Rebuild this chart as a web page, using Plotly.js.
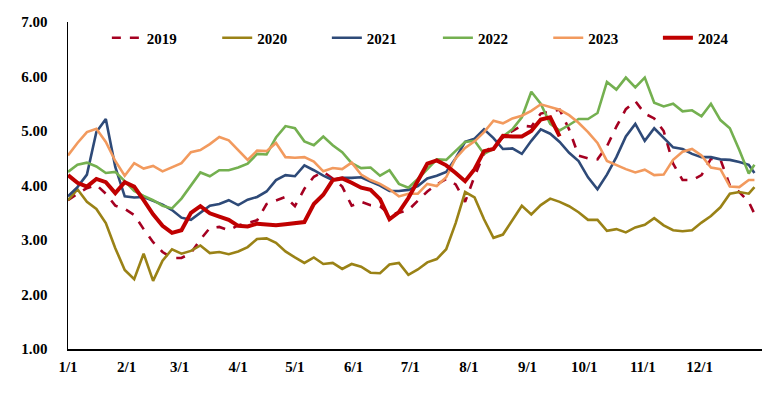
<!DOCTYPE html>
<html>
<head>
<meta charset="utf-8">
<script src="https://cdn.plot.ly/plotly-3.0.1.min.js"></script>
<style>html,body{margin:0;padding:0;background:#fff;}#chart{width:777px;height:394px;}</style>
</head>
<body>
<div id="chart"></div>
<script>
const dates = ["2023-01-01","2023-01-06","2023-01-11","2023-01-16","2023-01-21","2023-01-26","2023-01-31","2023-02-05","2023-02-10","2023-02-15","2023-02-20","2023-02-25","2023-03-02","2023-03-07","2023-03-12","2023-03-17","2023-03-22","2023-03-27","2023-04-01","2023-04-06","2023-04-11","2023-04-16","2023-04-21","2023-04-26","2023-05-01","2023-05-06","2023-05-11","2023-05-16","2023-05-21","2023-05-26","2023-05-31","2023-06-05","2023-06-10","2023-06-15","2023-06-20","2023-06-25","2023-06-30","2023-07-05","2023-07-10","2023-07-15","2023-07-20","2023-07-25","2023-07-30","2023-08-04","2023-08-09","2023-08-14","2023-08-19","2023-08-24","2023-08-29","2023-09-03","2023-09-08","2023-09-13","2023-09-18","2023-09-23","2023-09-28","2023-10-03","2023-10-08","2023-10-13","2023-10-18","2023-10-23","2023-10-28","2023-11-02","2023-11-07","2023-11-12","2023-11-17","2023-11-22","2023-11-27","2023-12-02","2023-12-07","2023-12-12","2023-12-17","2023-12-22","2023-12-27","2023-12-30"];

const tickDates = ["2023-01-01","2023-02-01","2023-03-01","2023-04-01","2023-05-01","2023-06-01","2023-07-01","2023-08-01","2023-09-01","2023-10-01","2023-11-01","2023-12-01"];
const tickLabels = ["1/1","2/1","3/1","4/1","5/1","6/1","7/1","8/1","9/1","10/1","11/1","12/1"];

const y2019 = [3.73,3.85,3.95,4.01,3.85,3.63,3.57,3.46,3.20,2.96,2.78,2.67,2.67,2.76,3.01,3.22,3.24,3.18,3.27,3.31,3.36,3.66,3.73,3.79,3.62,3.94,4.16,4.25,4.13,3.98,3.63,3.70,3.64,3.62,3.47,3.50,3.55,3.73,3.89,4.02,4.12,4.02,3.70,4.17,4.58,4.76,4.88,5.00,5.10,5.08,5.32,5.36,5.39,5.03,4.55,4.50,4.48,4.72,5.08,5.40,5.55,5.32,5.23,5.00,4.40,4.10,4.10,4.19,4.49,4.48,4.00,3.88,3.70,3.48];

const y2020 = [3.73,3.93,3.70,3.57,3.31,2.85,2.45,2.28,2.75,2.25,2.62,2.83,2.75,2.80,2.90,2.76,2.78,2.74,2.79,2.87,3.02,3.03,2.95,2.79,2.68,2.58,2.68,2.56,2.58,2.47,2.56,2.51,2.40,2.39,2.55,2.58,2.36,2.46,2.59,2.65,2.83,3.31,3.88,3.78,3.38,3.04,3.10,3.37,3.63,3.47,3.64,3.76,3.70,3.62,3.51,3.37,3.37,3.17,3.20,3.14,3.23,3.28,3.40,3.27,3.18,3.16,3.18,3.32,3.44,3.60,3.85,3.88,3.85,3.97];

const y2021 = [3.80,3.97,4.20,4.98,5.22,4.34,3.80,3.78,3.79,3.72,3.65,3.55,3.41,3.37,3.50,3.63,3.66,3.73,3.64,3.74,3.79,3.89,4.10,4.19,4.17,4.37,4.28,4.18,4.10,4.14,4.14,4.15,4.07,4.00,3.90,3.90,3.92,3.99,4.13,4.18,4.25,4.50,4.80,4.86,5.03,4.87,4.67,4.68,4.58,4.82,5.03,4.95,4.80,4.60,4.45,4.15,3.93,4.20,4.52,4.90,5.13,4.82,5.05,4.88,4.70,4.67,4.58,4.52,4.52,4.48,4.47,4.43,4.38,4.23];

const y2022 = [4.25,4.38,4.42,4.35,4.23,4.25,4.08,3.90,3.81,3.73,3.63,3.58,3.76,4.00,4.24,4.17,4.28,4.28,4.33,4.40,4.58,4.57,4.88,5.09,5.05,4.81,4.74,4.90,4.74,4.61,4.41,4.32,4.33,4.18,4.28,4.03,3.96,4.12,4.31,4.48,4.47,4.64,4.80,4.82,4.58,4.67,4.90,5.03,5.25,5.72,5.50,5.13,5.01,5.11,5.22,5.22,5.33,5.90,5.76,5.98,5.80,5.98,5.52,5.45,5.50,5.36,5.38,5.27,5.50,5.20,5.05,4.65,4.22,4.38];

const y2023 = [4.55,4.78,4.98,5.04,4.80,4.45,4.18,4.41,4.31,4.36,4.26,4.34,4.41,4.61,4.65,4.76,4.89,4.83,4.64,4.47,4.64,4.63,4.78,4.52,4.51,4.52,4.44,4.26,4.32,4.30,4.42,4.20,4.10,4.03,3.93,3.80,3.85,3.85,4.03,3.99,4.15,4.50,4.69,4.81,4.98,5.19,5.14,5.23,5.28,5.37,5.49,5.44,5.39,5.29,5.15,4.98,4.78,4.45,4.37,4.30,4.24,4.29,4.19,4.20,4.47,4.62,4.67,4.55,4.33,4.30,3.98,3.97,4.10,4.10];

const y2024 = [4.19,4.05,3.98,4.12,4.06,3.86,4.06,3.98,3.73,3.47,3.26,3.13,3.18,3.50,3.62,3.49,3.43,3.37,3.26,3.25,3.30,3.29,3.27,3.29,3.31,3.33,3.66,3.83,4.10,4.13,4.05,3.96,3.92,3.75,3.38,3.51,3.77,4.08,4.40,4.46,4.37,4.23,4.08,4.30,4.63,4.67,4.91,4.90,4.90,5.00,5.21,5.25,4.90];

const seriesNames = ["2019","2020","2021","2022","2023","2024"];
const seriesData = [y2019,y2020,y2021,y2022,y2023,y2024];
const colors = ["#A50021","#9A8216","#2E4A78","#74B050","#F29A5E","#C00000"];
const widths = [2.6,2.6,2.6,2.6,2.6,4];
const dashes = ["dash","solid","solid","solid","solid","solid"];
const legendX = [0.056,0.215,0.373,0.533,0.692,0.850];

const fam = "Liberation Serif, Times New Roman, serif";
const legendIds = ["legend","legend2","legend3","legend4","legend5","legend6"];

const traces = seriesNames.map((n,i)=>({
  type:"scatter", mode:"lines", name:n, legend:legendIds[i],
  x: dates.slice(0, seriesData[i].length), y: seriesData[i],
  line:{color:colors[i], width:widths[i], dash:dashes[i]}
}));

const layout = {
  width:777, height:394,
  margin:{l:68, r:15, t:22, b:45},
  paper_bgcolor:"#fff", plot_bgcolor:"#fff",
  showlegend:true,
  xaxis:{type:"date", range:["2023-01-01","2024-01-03"], tickmode:"array", tickvals:tickDates, ticktext:tickLabels,
         showgrid:false, zeroline:false, showline:true, linecolor:"#000", linewidth:1.5,
         ticks:"", ticklabelstandoff:3, tickfont:{family:fam, size:15, color:"#000", weight:"bold"}},
  yaxis:{range:[1,7], dtick:1, tickformat:".2f", showgrid:false, zeroline:false, showline:true,
         linecolor:"#000", linewidth:1.5, ticks:"", ticklabelstandoff:16,
         tickfont:{family:fam, size:15, color:"#000", weight:"bold"}}
};
legendIds.forEach((id,i)=>{
  layout[id] = {orientation:"h", x:legendX[i], xanchor:"left", y:0.951, yanchor:"middle",
    font:{family:fam, size:15, color:"#000", weight:"bold"}, bgcolor:"rgba(0,0,0,0)"};
});
Plotly.newPlot("chart", traces, layout, {displayModeBar:false, staticPlot:true});
</script>
</body>
</html>
